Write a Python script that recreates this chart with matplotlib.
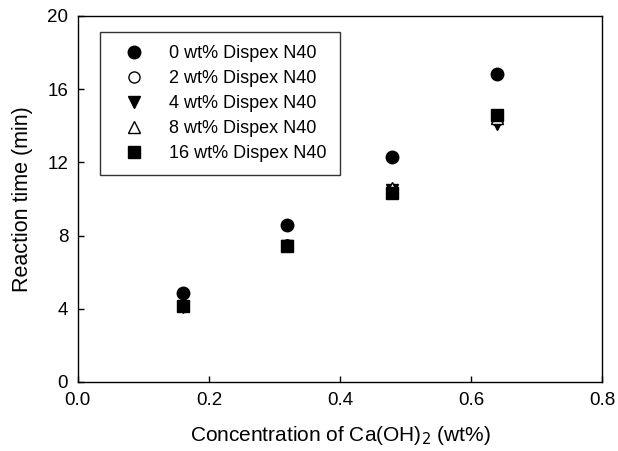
import numpy as np
import matplotlib.pyplot as plt

plt.rcParams['font.family'] = ['Liberation Sans', 'DejaVu Sans']

# data
conc = [0.16, 0.32, 0.48, 0.64]
t0 = [4.85, 8.6, 12.3, 16.8]
t2 = [4.2, 7.5, 10.3, 14.3]
t4 = [4.1, 7.4, 10.5, 14.1]
t8 = [4.2, 7.5, 10.6, 14.4]
t16 = [4.15, 7.45, 10.3, 14.6]
labels = ["0 wt% Dispex N40", "2 wt% Dispex N40", "4 wt% Dispex N40",
          "8 wt% Dispex N40", "16 wt% Dispex N40"]

fig = plt.figure(figsize=(6.18, 4.51), dpi=100)
ax = fig.add_axes([0.126, 0.153, 0.848, 0.812])

ax.plot(conc, t0, 'o', color='black', markersize=9, label=labels[0])
ax.plot(conc, t2, 'o', mfc='white', mec='black', markersize=8, label=labels[1])
ax.plot(conc, t4, 'v', color='black', markersize=9, label=labels[2])
ax.plot(conc, t8, '^', mfc='white', mec='black', markersize=8, label=labels[3])
ax.plot(conc, t16, 's', color='black', markersize=8, label=labels[4])

ax.set_xlim(0, 0.8)
ax.set_ylim(0, 20)
ax.set_xticks([0.0, 0.2, 0.4, 0.6, 0.8])
ax.set_yticks([0, 4, 8, 12, 16, 20])
ax.tick_params(direction='in', length=4, width=1, labelsize=13.5, pad=7)
for s in ax.spines.values():
    s.set_linewidth(1)

ax.set_xlabel("Concentration of Ca(OH)$_2$ (wt%)", fontsize=15, labelpad=11)
ax.set_ylabel("Reaction time (min)", fontsize=15.5, labelpad=10)

leg = ax.legend(loc='upper left', bbox_to_anchor=(0.042, 0.955), fontsize=13,
                frameon=True, fancybox=False, edgecolor='black',
                handletextpad=0.75, labelspacing=0.45, borderpad=0.7,
                handlelength=2.4, borderaxespad=0)
leg.get_frame().set_linewidth(1)

fig.savefig("out.png", dpi=100)
